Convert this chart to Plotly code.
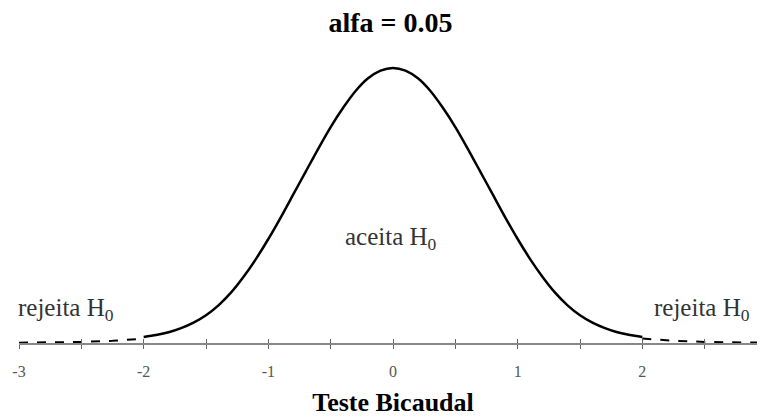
import plotly.graph_objects as go

# curve (relative height, peak = 1)
x_curve = [-2.0, -1.9, -1.8, -1.7, -1.6, -1.5, -1.4, -1.3, -1.2, -1.1, -1.0,
           -0.9, -0.8, -0.7, -0.6, -0.5, -0.4, -0.3, -0.2, -0.1, 0.0,
           0.1, 0.2, 0.3, 0.4, 0.5, 0.6, 0.7, 0.8, 0.9, 1.0,
           1.1, 1.2, 1.3, 1.4, 1.5, 1.6, 1.7, 1.8, 1.9, 2.0]
y_curve = [0.022, 0.029, 0.039, 0.054, 0.074, 0.101, 0.137, 0.183, 0.24, 0.305, 0.378,
           0.457, 0.54, 0.623, 0.706, 0.785, 0.855, 0.916, 0.962, 0.99, 1.0,
           0.99, 0.962, 0.916, 0.855, 0.785, 0.706, 0.623, 0.54, 0.457, 0.378,
           0.305, 0.24, 0.183, 0.137, 0.101, 0.074, 0.054, 0.039, 0.029, 0.022]

# dashed rejection tails
x_tail_left = [-3.0, -2.75, -2.5, -2.25, -2.1, -2.0]
y_tail_left = [0.001, 0.002, 0.004, 0.008, 0.012, 0.016]
x_tail_right = [2.0, 2.1, 2.25, 2.5, 2.75, 3.0]
y_tail_right = [0.016, 0.012, 0.008, 0.004, 0.002, 0.001]

tick_vals = [-3, -2.5, -2, -1.5, -1, -0.5, 0, 0.5, 1, 1.5, 2, 2.5, 3]
tick_text = ["-3", "", "-2", "", "-1", "", "0", "", "1", "", "2", "", "3"]

SERIF = "Liberation Serif, Times New Roman, serif"

fig = go.Figure()
fig.add_trace(go.Scatter(x=x_curve, y=y_curve, mode="lines",
                         line=dict(color="black", width=2.5, shape="spline",
                                   smoothing=0.8),
                         cliponaxis=False, hoverinfo="skip"))
for xs, ys in [(x_tail_left, y_tail_left), (x_tail_right, y_tail_right)]:
    fig.add_trace(go.Scatter(x=xs, y=ys, mode="lines",
                             line=dict(color="black", width=2, dash="dash"),
                             cliponaxis=False, hoverinfo="skip"))
# dummy trace so the overlay axis (inner tick halves) gets drawn
fig.add_trace(go.Scatter(x=[0], y=[0], xaxis="x2", mode="markers",
                         marker=dict(opacity=0), hoverinfo="skip"))

# margins allow for the 8px body margin of the html page
fig.update_layout(
    width=765, height=419,
    margin=dict(l=11, r=6, t=42, b=84),
    plot_bgcolor="white", paper_bgcolor="white",
    showlegend=False,
    title=dict(text="<b>alfa = 0.05</b>", x=0.5, xanchor="center",
               y=0.967, yanchor="middle",
               font=dict(family=SERIF, size=28, color="black")),
    xaxis=dict(range=[-3, 3], tickvals=tick_vals, ticktext=tick_text,
               ticks="outside", ticklen=4, tickwidth=1.3, tickcolor="#666",
               showline=True, linecolor="#888", linewidth=1.5,
               showgrid=False, zeroline=False, ticklabelstandoff=9,
               automargin=False,
               tickfont=dict(family=SERIF, size=16, color="#555"),
               title=dict(text="<b>Teste Bicaudal</b>", standoff=14,
                          font=dict(family=SERIF, size=26, color="black"))),
    xaxis2=dict(range=[-3, 3], overlaying="x", anchor="y", side="bottom",
                tickvals=tick_vals, ticks="inside", ticklen=4, tickwidth=1.3,
                tickcolor="#666", showticklabels=False, showline=False,
                showgrid=False, zeroline=False, automargin=False),
    yaxis=dict(range=[0, 1.065], visible=False, showgrid=False, zeroline=False,
               automargin=False),
)

ann_font = dict(family=SERIF, size=25, color="#333")
fig.add_annotation(x=-0.02, y=0.38, text="aceita H<sub>0</sub>", showarrow=False,
                   font=ann_font)
fig.add_annotation(x=-2.62, y=0.12, text="rejeita H<sub>0</sub>", showarrow=False,
                   font=ann_font)
fig.add_annotation(x=2.48, y=0.12, text="rejeita H<sub>0</sub>", showarrow=False,
                   font=ann_font)

fig.write_html("out.html")
